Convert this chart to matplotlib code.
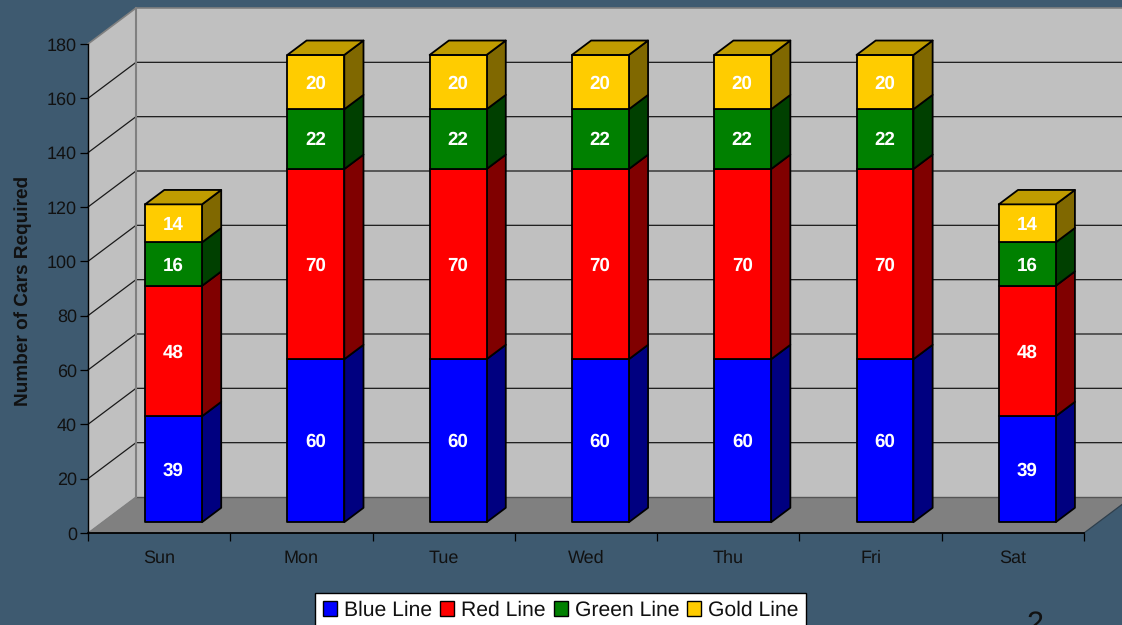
#!/usr/bin/env python3
import matplotlib
matplotlib.use('Agg')
import matplotlib.pyplot as plt
from matplotlib.patches import Polygon, Patch

plt.rcParams['font.family'] = ['Liberation Sans', 'DejaVu Sans']
plt.rcParams['text.hinting'] = 'no_hinting'

#%%
# data
days = ['Sun', 'Mon', 'Tue', 'Wed', 'Thu', 'Fri', 'Sat']
blue_line = [39, 60, 60, 60, 60, 60, 39]
red_line = [48, 70, 70, 70, 70, 70, 48]
green_line = [16, 22, 22, 22, 22, 22, 16]
gold_line = [14, 20, 20, 20, 20, 20, 14]
y_ticks = [0, 20, 40, 60, 80, 100, 120, 140, 160, 180]
series_names = ['Blue Line', 'Red Line', 'Green Line', 'Gold Line']

#%%
# colours: front, side, top
front_cols = ['#0000ff', '#ff0000', '#008000', '#ffcc00']
side_cols = ['#000080', '#800000', '#004000', '#806800']
top_cols = ['#00009c', '#9c0000', '#006000', '#c09c00']
bg_col = '#3e5a70'
txt_col = '#111111'

W, H = 1122, 625
fig = plt.figure(figsize=(W / 100, H / 100), dpi=100, facecolor=bg_col)
ax = fig.add_axes([88 / W, 1 - 533 / H, 996 / W, 489 / H])
ax.set_xlim(0, 7)
ax.set_ylim(0, 180)
ax.patch.set_visible(False)

# fake 3d: one unit of depth shifts this much in data units
DX = 48 / (996 / 7)
DY = 36 / (489 / 180)


def pt(x, y, d):
    return (x + d * DX, y + d * DY)


def face(points, fc, ec='none', lw=0.0, z=1):
    ax.add_patch(Polygon(points, closed=True, fc=fc, ec=ec, lw=lw,
                         clip_on=False, joinstyle='round', zorder=z))


def wall_line(points, col, lw):
    xs, ys = zip(*points)
    ax.plot(xs, ys, color=col, lw=lw, clip_on=False, zorder=1.5)


#%%
# walls and floor
face([pt(0, 0, 1), pt(7, 0, 1), pt(7, 180, 1), pt(0, 180, 1)], '#c0c0c0')
face([pt(0, 0, 0), pt(0, 0, 1), pt(0, 180, 1), pt(0, 180, 0)], '#c0c0c0')
face([pt(0, 0, 0), pt(7, 0, 0), pt(7, 0, 1), pt(0, 0, 1)], '#808080')

for v in y_ticks[1:-1]:
    wall_line([pt(0, v, 0), pt(0, v, 1), pt(7, v, 1)], '#1a1a1a', 0.9)

wall_line([pt(0, 0, 1), pt(7, 0, 1)], '#555555', 1.0)
wall_line([pt(0, 180, 0), pt(0, 180, 1), pt(7, 180, 1)], '#808080', 1.2)
wall_line([pt(0, 0, 1), pt(0, 180, 1)], '#808080', 1.5)
wall_line([pt(0, 0, 0), pt(0, 0, 1)], '#808080', 0.9)
wall_line([pt(7, 0, 0), pt(7, 0, 1)], '#2f3f4c', 0.9)

#%%
# stacked bars
bar_w = 0.4
d0, d1 = 0.3, 0.7
stacks = [blue_line, red_line, green_line, gold_line]
for i in range(len(days)):
    base = 0
    left = i + 0.5 - bar_w / 2
    right = left + bar_w
    for s, vals in enumerate(stacks):
        v0, v1 = base, base + vals[i]
        a = pt(left, v0, d0)
        b = pt(right, v0, d0)
        c = pt(right, v1, d0)
        e = pt(left, v1, d0)
        b2 = pt(right, v0, d1)
        c2 = pt(right, v1, d1)
        e2 = pt(left, v1, d1)
        face([b, b2, c2, c], side_cols[s], 'black', 1.3, z=2)
        face([a, b, c, e], front_cols[s], 'black', 1.3, z=2)
        if s == len(stacks) - 1:
            face([e, c, c2, e2], top_cols[s], 'black', 1.3, z=2)
        ax.text((a[0] + b[0]) / 2 - 0.003, (v0 + v1) / 2 + d0 * DY + 0.2, str(vals[i]),
                color='white', fontsize=13.5, fontweight='bold',
                ha='center', va='center_baseline', zorder=5)
        base = v1

#%%
# axes
for name in ['top', 'right']:
    ax.spines[name].set_visible(False)
ax.spines['left'].set_linewidth(1.0)
ax.spines['bottom'].set_linewidth(1.3)
ax.set_yticks(y_ticks)
ax.set_xticks(range(8))
ax.set_xticklabels([])
ax.set_xticks([i + 0.5 for i in range(7)], labels=days, minor=True)
ax.tick_params(axis='y', length=6, width=0.9, pad=2, labelsize=13,
               labelcolor=txt_col)
ax.tick_params(axis='x', which='major', length=6, width=0.9)
ax.tick_params(axis='x', which='minor', length=0, pad=12, labelsize=13,
               labelcolor=txt_col)
fig.text(23 / W, 1 - 291 / H, 'Number of Cars Required', rotation=90,
         fontsize=13.7, fontweight='bold', color=txt_col,
         ha='center', va='center')

#%%
# legend
handles = [Patch(fc=c, ec='black', lw=1.0) for c in front_cols]
leg = fig.legend(handles, series_names, ncol=4, loc='upper left',
                 bbox_to_anchor=(315 / W, 1 - 593 / H), frameon=True,
                 fancybox=False, framealpha=1.0, facecolor='white',
                 edgecolor='black', fontsize=15.2, borderaxespad=0,
                 handlelength=0.67, handleheight=0.67, handletextpad=0.33,
                 columnspacing=0.38, borderpad=0.36, labelcolor=txt_col)
leg.get_frame().set_linewidth(1.0)

# page number, cut off by the slide edge
fig.text(1035 / W, 1 - 633 / H, '2', fontsize=22, color=txt_col,
         ha='center', va='baseline')

plt.savefig('out.png', dpi=100, facecolor=bg_col)
